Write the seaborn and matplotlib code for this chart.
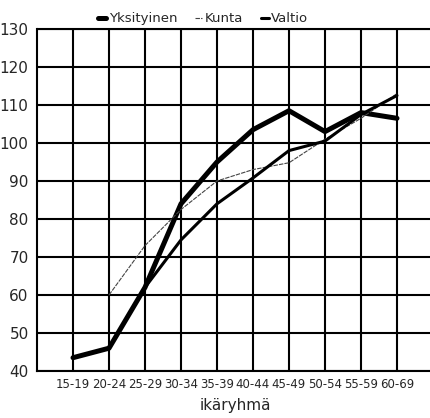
import matplotlib
matplotlib.use("Agg")
import matplotlib.pyplot as plt
import numpy as np
import pandas as pd
import seaborn as sns

ikaryhmat = ["15-19", "20-24", "25-29", "30-34", "35-39",
             "40-44", "45-49", "50-54", "55-59", "60-69"]
yksityinen = [43.5, 46, 62, 84, 95, 103.5, 108.5, 103, 108, 106.5]
kunta = [np.nan, 60, 73, 82.5, 90, 93, 94.8, 101, 106.5, 113]
valtio = [np.nan, np.nan, 62, 74.5, 84, 90.8, 98, 100.5, 107.5, 112.5]

df = pd.DataFrame({
    "pos": list(range(len(ikaryhmat))) * 3,
    "arvo": yksityinen + kunta + valtio,
    "sarja": ["Yksityinen"] * 10 + ["Kunta"] * 10 + ["Valtio"] * 10,
}).dropna()

sns.set_style("white")
plt.rcParams["font.family"] = ["DejaVu Sans"]

fig = plt.figure(figsize=(4.31, 4.18), dpi=100)
ax = fig.add_axes([37 / 431, 47 / 418, 396 / 431, 342 / 418])

styles = {
    "Yksityinen": dict(color="black", linewidth=3.6),
    "Kunta": dict(color="#444444", linewidth=0.8, linestyle=(0, (4, 1))),
    "Valtio": dict(color="black", linewidth=2.2),
}
for name in ["Yksityinen", "Kunta", "Valtio"]:
    sns.lineplot(data=df[df["sarja"] == name], x="pos", y="arvo", ax=ax,
                 label=name, **styles[name])

ax.set_xlim(-1, 10)
ax.set_ylim(40, 130)
ax.set_yticks(range(40, 131, 10))
ax.set_yticklabels([str(v) for v in range(40, 131, 10)], fontsize=11)
ax.set_xticks(range(len(ikaryhmat)))
ax.set_xticklabels(ikaryhmat, fontsize=8.5)
ax.tick_params(axis="y", length=0, pad=6)
ax.tick_params(axis="x", length=0, pad=5)
ax.set_xlabel("ikäryhmä", fontsize=11, labelpad=5)
ax.set_ylabel("")

ax.grid(True, color="black", linewidth=1.5)
for s in ["top", "right"]:
    ax.spines[s].set_visible(False)
for s in ["left", "bottom"]:
    ax.spines[s].set_color("black")
    ax.spines[s].set_linewidth(1.5)
ax.axhline(130, color="black", linewidth=1.5, clip_on=False)

ax.legend(loc="lower center", bbox_to_anchor=(0.42, 0.995), ncol=3,
          frameon=False, fontsize=9.5, handlelength=0.6, handletextpad=0.2,
          columnspacing=1.3, borderaxespad=0)

fig.savefig("out.png", dpi=100)
